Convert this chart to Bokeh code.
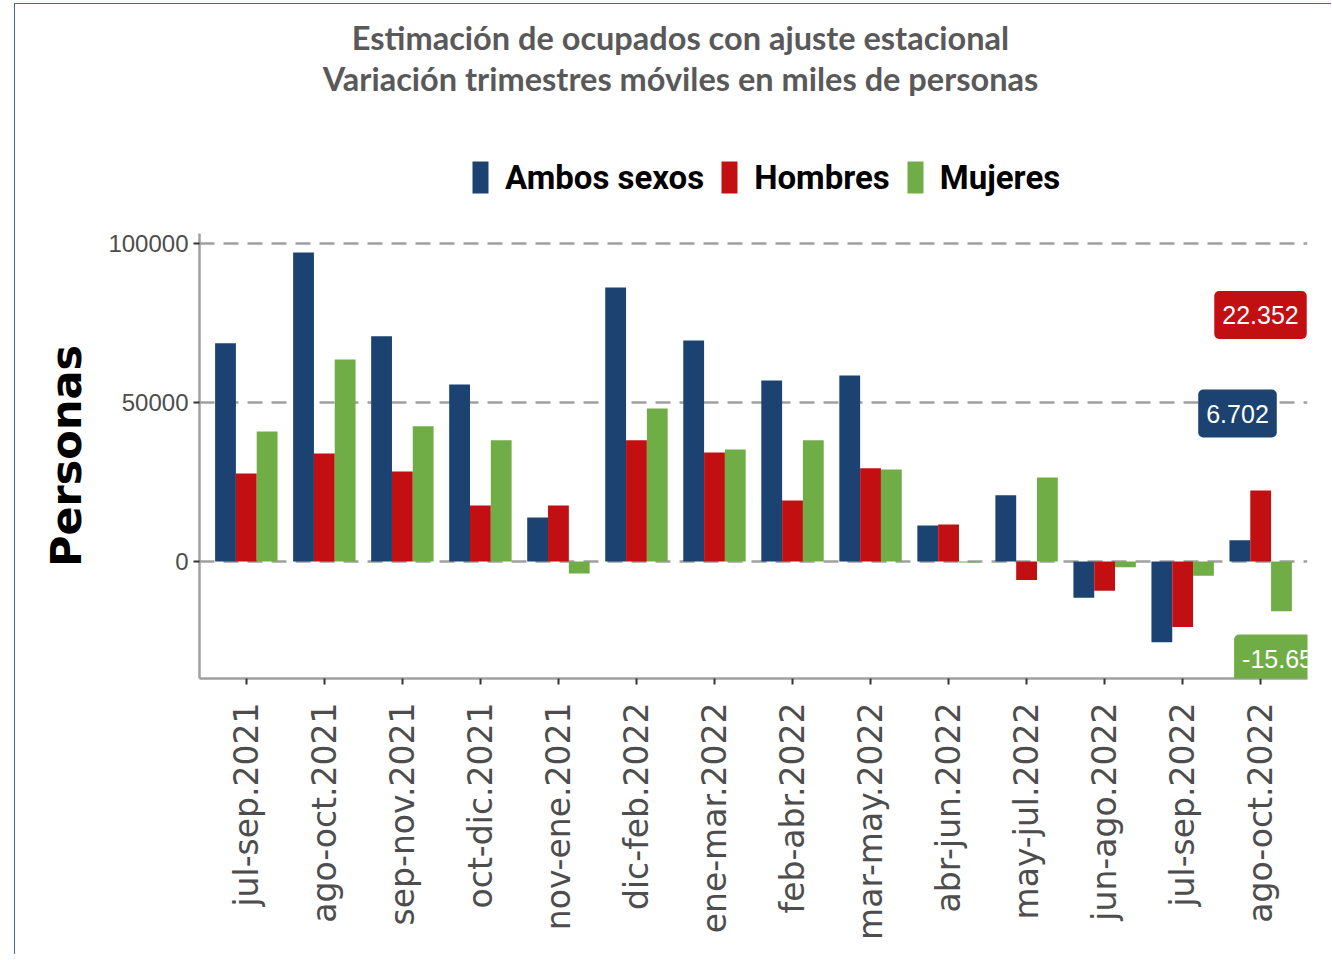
from bokeh.plotting import figure
from bokeh.models import (FactorRange, Range1d, FixedTicker, NumeralTickFormatter,
                          Label, ColumnDataSource, Legend, LegendItem)
from bokeh.layouts import column
from bokeh.transform import dodge
from bokeh.embed import file_html
from bokeh.resources import INLINE

# ---------------- data ----------------
categories = ["jul-sep.2021", "ago-oct.2021", "sep-nov.2021", "oct-dic.2021",
              "nov-ene.2021", "dic-feb.2022", "ene-mar.2022", "feb-abr.2022",
              "mar-may.2022", "abr-jun.2022", "may-jul.2022", "jun-ago.2022",
              "jul-sep.2022", "ago-oct.2022"]
ambos = [68600, 97200, 70800, 55700, 13800, 86200, 69500, 56900,
         58500, 11300, 20800, -11400, -25400, 6702]
hombres = [27700, 34000, 28300, 17600, 17600, 38100, 34300, 19200,
           29300, 11600, -5800, -9200, -20600, 22352]
mujeres = [40900, 63500, 42500, 38100, -3800, 48100, 35200, 38100,
           28900, -300, 26400, -1800, -4500, -15650]
series_names = ["Ambos sexos", "Hombres", "Mujeres"]
colors = ["#1B4270", "#C10F12", "#70AD47"]
y_ticks = [0, 50000, 100000]
title_lines = ["Estimación de ocupados con ajuste estacional",
               "Variación trimestres móviles en miles de personas"]
y_label = "Personas"

# ---------------- geometry (page pixels) ----------------
OX, OY = 15, 4            # where the figures start on the page
W = 1316
HH = 200                  # header height
HM = 750                  # main figure height
FL, FR, FT, FB = 199, 1307, 233, 678   # plot frame on the page
Y0, Y1 = -36800, 103150
PAD = 0.1
X0, X1 = -PAD, len(categories) + PAD


def ydata(py):
    return Y1 - (py - FT) * (Y1 - Y0) / (FB - FT)


def xdata(px):
    return X0 + (px - FL) * (X1 - X0) / (FR - FL)


# ---------------- header (titles + legend) ----------------
# x and y data of the header are page pixels
h = figure(width=W, height=HH, x_range=Range1d(FL, FR), y_range=Range1d(OY + HH, OY),
           output_backend="svg", toolbar_location=None,
           x_axis_location=None, y_axis_location=None,
           min_border_left=FL - OX, min_border_right=OX + W - FR,
           min_border_top=0, min_border_bottom=0)
h.grid.visible = False
h.outline_line_color = None
h.background_fill_color = "white"
h.border_fill_color = "white"

for txt, py in zip(title_lines, [37, 78]):
    h.add_layout(Label(x=680, y=py, text=txt, text_align="center",
                       text_baseline="middle", text_font="Lato", text_font_style="bold",
                       text_font_size="32.5px", text_color="#595959"))

items = []
for name, c in zip(series_names, colors):
    r = h.vbar(x=[FL], top=[OY], bottom=[OY], width=0, fill_color=c, line_color=None)
    items.append(LegendItem(label=name, renderers=[r]))
lg = Legend(items=items, orientation="horizontal",
            location=(470 - FL, OY + HH - 197),
            glyph_width=20, glyph_height=40, label_height=40,
            label_standoff=15, spacing=15, padding=0, margin=0,
            border_line_color=None, background_fill_alpha=0,
            label_text_font="Roboto", label_text_font_style="bold",
            label_text_font_size="33px", label_text_color="black")
h.add_layout(lg, "center")

# ---------------- main chart ----------------
src = ColumnDataSource(dict(cat=categories, ambos=ambos, hombres=hombres, mujeres=mujeres))

p = figure(x_range=FactorRange(factors=categories, range_padding=PAD,
                               range_padding_units="absolute"),
           y_range=Range1d(Y0, Y1), width=W, height=HM,
           output_backend="svg", toolbar_location=None,
           min_border_left=FL - OX, min_border_right=OX + W - FR,
           min_border_top=FT - OY - HH, min_border_bottom=OY + HH + HM - FB)
p.outline_line_color = None
p.background_fill_color = "white"
p.border_fill_color = "white"

bw = 0.8 / 3
for i, col in enumerate(["ambos", "hombres", "mujeres"]):
    p.vbar(x=dodge("cat", (i - 1) * bw, range=p.x_range), top=col, bottom=0,
           width=bw, source=src, fill_color=colors[i], line_color=None)

p.xgrid.grid_line_color = None
p.ygrid.ticker = FixedTicker(ticks=y_ticks)
p.ygrid.grid_line_color = "#A0A0A0"
p.ygrid.grid_line_width = 2.5
p.ygrid.grid_line_dash = "15 9"

p.yaxis.ticker = FixedTicker(ticks=y_ticks)
p.yaxis.formatter = NumeralTickFormatter(format="0")
for ax in (p.xaxis[0], p.yaxis[0]):
    ax.axis_line_color = "#A0A0A0"
    ax.axis_line_width = 2.5
    ax.major_tick_line_color = "#333333"
    ax.major_tick_line_width = 2
    ax.major_tick_out = 6
    ax.major_tick_in = 0
    ax.minor_tick_line_color = None
    ax.major_label_text_color = "#4D4D4D"

p.yaxis.major_label_text_font = "Liberation Sans"
p.yaxis.major_label_text_font_size = "24px"
p.yaxis.major_label_standoff = 5
p.yaxis.axis_label = y_label
p.yaxis.axis_label_text_font = "DejaVu Sans"
p.yaxis.axis_label_text_font_style = "bold"
p.yaxis.axis_label_text_font_size = "43px"
p.yaxis.axis_label_text_color = "black"
p.yaxis.axis_label_standoff = 14

p.xaxis.major_label_orientation = 3.14159265 / 2
p.xaxis.major_label_text_font = "DejaVu Sans"
p.xaxis.major_label_text_font_size = "33px"
p.xaxis.major_label_standoff = 18


def fmt(v):
    return f"{v:,}".replace(",", ".")


last = len(categories) - 1
label_specs = [
    (ambos[last], colors[0], 1237, 413),
    (hombres[last], colors[1], 1260, 314.5),
    (mujeres[last], colors[2], 1284, 658),
]
for v, c, px, py in label_specs:
    p.add_layout(Label(x=xdata(px), y=ydata(py), text=fmt(v), text_align="center",
                       text_baseline="middle", text_font="Liberation Sans",
                       text_font_size="25px", text_color="white",
                       background_fill_color=c, background_fill_alpha=1,
                       border_radius=5, padding=(8, 8, 15, 15)))

layout = column(h, p, styles={"margin-left": "14px", "margin-top": "3px",
                              "border-left": "1px solid #4169AA",
                              "border-top": "1px solid #4169AA"})

open("out.html", "w").write(file_html(layout, INLINE))
